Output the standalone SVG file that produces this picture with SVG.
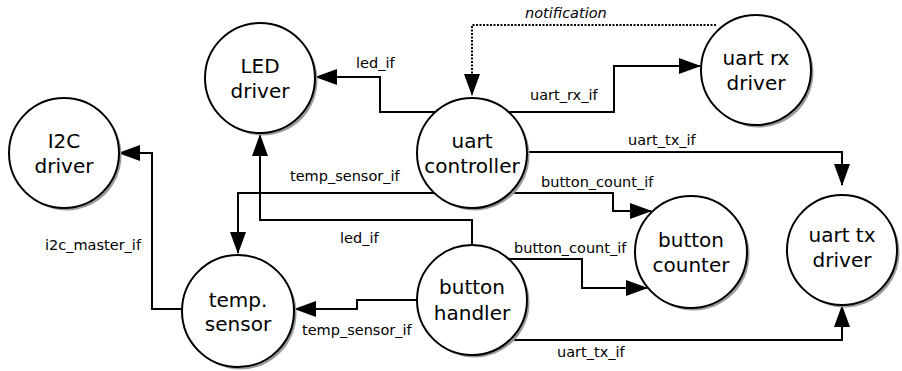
<svg xmlns="http://www.w3.org/2000/svg" width="902" height="371" viewBox="0 0 902 371">
<style>
.shadow{fill:#9a9a9a;stroke:none}
.node{fill:#fff;stroke:#000;stroke-width:2}
.nt{font-family:"DejaVu Sans",sans-serif;font-size:20px;fill:#000;text-anchor:middle}
.edge{fill:none;stroke:#000;stroke-width:2;marker-end:url(#arrow)}
.dot{stroke-dasharray:2,1.5}
.lbl{font-family:"DejaVu Sans",sans-serif;font-size:14.5px;fill:#000}
.it{font-style:italic}
</style>
<defs>
<marker id="arrow" viewBox="0 0 22 16" refX="21" refY="8" markerWidth="22" markerHeight="16" markerUnits="userSpaceOnUse" orient="auto">
<path d="M0,0 L22,8 L0,16 z" fill="#000"/>
</marker>
</defs>
<rect width="902" height="371" fill="#fff"/>
<g id="connectors">
<path class="edge" d="M436,112 H380 V77 H316"/>
<path class="edge dot" d="M716,25 H472 V95"/>
<path class="edge" d="M508,112 H614 V66 H700"/>
<path class="edge" d="M527,152 H842 V185"/>
<path class="edge" d="M510,193 H613 V211 H651"/>
<path class="edge" d="M434,193 H238 V253"/>
<path class="edge" d="M472,245 V220 H260 V135"/>
<path class="edge" d="M182,309 H152 V153 H119"/>
<path class="edge" d="M417,300 H357 V309 H295"/>
<path class="edge" d="M509,259 H582 V288 H647"/>
<path class="edge" d="M510,340 H842 V306"/>
<text class="lbl it" x="525" y="18">notification</text>
<text class="lbl" x="356" y="68">led_if</text>
<text class="lbl" x="530" y="100">uart_rx_if</text>
<text class="lbl" x="628" y="145">uart_tx_if</text>
<text class="lbl" x="290" y="181">temp_sensor_if</text>
<text class="lbl" x="541" y="187">button_count_if</text>
<text class="lbl" x="340" y="243">led_if</text>
<text class="lbl" x="514" y="253">button_count_if</text>
<text class="lbl" x="45" y="250">i2c_master_if</text>
<text class="lbl" x="302" y="335">temp_sensor_if</text>
<text class="lbl" x="557" y="357">uart_tx_if</text>
</g>
<g id="led-driver">
<circle class="shadow" cx="262.5" cy="80.5" r="55"/>
<circle class="node" cx="260" cy="78" r="55"/>
<text class="nt" x="260" y="73">LED</text>
<text class="nt" x="260" y="98">driver</text>
</g>
<g id="uart-rx-driver">
<circle class="shadow" cx="758.5" cy="72.5" r="55"/>
<circle class="node" cx="756" cy="70" r="55"/>
<text class="nt" x="756" y="65">uart rx</text>
<text class="nt" x="756" y="90">driver</text>
</g>
<g id="i2c-driver">
<circle class="shadow" cx="66.5" cy="155.5" r="55"/>
<circle class="node" cx="64" cy="153" r="55"/>
<text class="nt" x="64" y="148">I2C</text>
<text class="nt" x="64" y="173">driver</text>
</g>
<g id="uart-controller">
<circle class="shadow" cx="474.5" cy="155.5" r="55"/>
<circle class="node" cx="472" cy="153" r="55"/>
<text class="nt" x="472" y="148">uart</text>
<text class="nt" x="472" y="173">controller</text>
</g>
<g id="button-counter">
<circle class="shadow" cx="693.5" cy="254.5" r="56"/>
<circle class="node" cx="691" cy="252" r="56"/>
<text class="nt" x="691" y="247">button</text>
<text class="nt" x="691" y="272">counter</text>
</g>
<g id="uart-tx-driver">
<circle class="shadow" cx="844.5" cy="252.5" r="55"/>
<circle class="node" cx="842" cy="250" r="55"/>
<text class="nt" x="842" y="242">uart tx</text>
<text class="nt" x="842" y="267">driver</text>
</g>
<g id="temp-sensor">
<circle class="shadow" cx="240.5" cy="313.5" r="56"/>
<circle class="node" cx="238" cy="311" r="56"/>
<text class="nt" x="238" y="307">temp.</text>
<text class="nt" x="238" y="331">sensor</text>
</g>
<g id="button-handler">
<circle class="shadow" cx="474.5" cy="302.5" r="55"/>
<circle class="node" cx="472" cy="300" r="55"/>
<text class="nt" x="472" y="294">button</text>
<text class="nt" x="472" y="320">handler</text>
</g>
</svg>
